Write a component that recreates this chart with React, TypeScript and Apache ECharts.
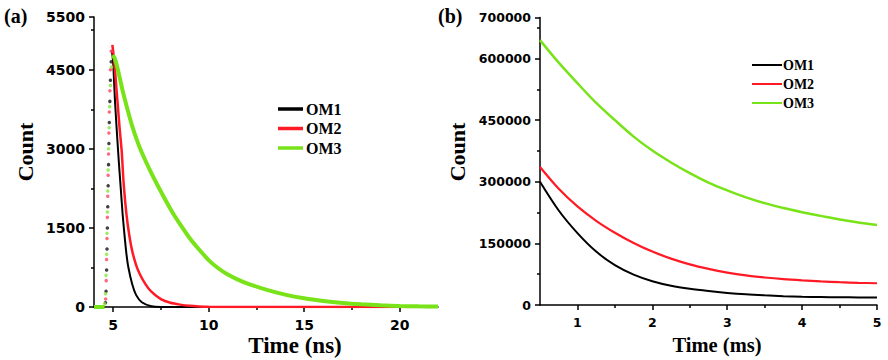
import React, { useEffect, useRef } from "react";
import * as echarts from "echarts";

// ---------- Panel (a): fluorescence decay (Time in ns) ----------
const baselineA: [number, number][] = [[4, 0], [4.55, 0]];
const om1DecayA: [number, number][] = [
  [4.93, 4870], [5.0, 4650], [5.1, 3900], [5.2, 3300], [5.3, 2750], [5.4, 2250],
  [5.5, 1750], [5.6, 1350], [5.7, 1000], [5.8, 750], [6.0, 430], [6.2, 230],
  [6.5, 90], [7.0, 15], [7.5, 0], [22, 0],
];
const om2DecayA: [number, number][] = [
  [4.96, 4970], [5.05, 4700], [5.15, 4250], [5.25, 3800], [5.35, 3350], [5.45, 2950],
  [5.55, 2350], [5.7, 1750], [5.85, 1350], [6.0, 1060], [6.2, 800], [6.4, 620],
  [6.7, 430], [7.0, 290], [7.5, 150], [8.0, 80], [8.5, 45], [9.0, 22], [9.5, 10],
  [10, 4], [11, 0], [22, 0],
];
const om3DecayA: [number, number][] = [
  [4.99, 4780], [5.1, 4700], [5.25, 4500], [5.5, 4100], [5.75, 3750], [6.0, 3430],
  [6.25, 3160], [6.5, 2930], [7.0, 2540], [7.5, 2190], [8.0, 1860], [8.5, 1570],
  [9.0, 1310], [9.5, 1090], [10.0, 890], [10.5, 735], [11.0, 615], [11.5, 525],
  [12.0, 450], [13.0, 330], [14.0, 235], [15.0, 165], [16.0, 115], [17.0, 78],
  [18.0, 52], [19.0, 33], [20.0, 20], [21.0, 12], [22.0, 8],
];
const om1RiseA: [number, number][] = [
  [4.6, 80], [4.63, 300], [4.66, 700], [4.68, 1100], [4.7, 1500], [4.72, 1900],
  [4.74, 2300], [4.76, 2700], [4.78, 3100], [4.8, 3500], [4.83, 3900], [4.86, 4300], [4.9, 4650],
];
const om2RiseA: [number, number][] = [
  [4.61, 150], [4.64, 500], [4.66, 900], [4.68, 1300], [4.7, 1700], [4.72, 2100],
  [4.74, 2500], [4.76, 2900], [4.78, 3300], [4.8, 3700], [4.83, 4100], [4.86, 4500], [4.9, 4850],
];
const om3RiseA: [number, number][] = [
  [4.56, 60], [4.6, 250], [4.63, 600], [4.66, 1000], [4.68, 1400], [4.7, 1800],
  [4.72, 2200], [4.74, 2600], [4.76, 3000], [4.79, 3400], [4.82, 3800], [4.86, 4200], [4.92, 4550],
];
const xLabelsA = [5, 10, 15, 20];
const xMinorA = [7.5, 12.5, 17.5];
const yLabelsA = [0, 1500, 3000, 4500, 5500];
const yMinorA = [750, 2250, 3750, 5250];

// ---------- Panel (b): phosphorescence decay (Time in ms) ----------
const timeB = [0.5, 0.75, 1, 1.25, 1.5, 1.75, 2, 2.25, 2.5, 2.75, 3, 3.25, 3.5, 3.75, 4, 4.25, 4.5, 4.75, 5];
const om1B = [300000, 230000, 175000, 130000, 97000, 74000, 58000, 47000, 39500, 34000, 29500, 26000, 23500, 21500, 20000, 19300, 18800, 18400, 18000];
const om2B = [336000, 283000, 240000, 205000, 176000, 151000, 130000, 113000, 99000, 88000, 79000, 72000, 67000, 63000, 60000, 57500, 55500, 54000, 53000];
const om3B = [645000, 590000, 540000, 492000, 450000, 410000, 376000, 347000, 321000, 298000, 279000, 262000, 248000, 236000, 226000, 217000, 208000, 201000, 195000];
const xLabelsB = [1, 2, 3, 4, 5];
const xMinorB = [1.5, 2.5, 3.5, 4.5];
const yLabelsB = [0, 150000, 300000, 450000, 600000, 700000];
const yMinorB = [75000, 225000, 375000, 525000, 675000];

const names = ["OM1", "OM2", "OM3"];
const colors = ["#000000", "#ff1a25", "#79e31a"];
const dotColors = ["#111111", "#ff4560", "#86e83a"];

const SERIF = "Liberation Serif";
const SANS = "DejaVu Sans";

function withGap(base: [number, number][], decay: [number, number][]) {
  return [...base, [base[base.length - 1][0] + 0.01, "-"], ...decay];
}

function majorAxis(grid: number, min: number, max: number, labels: number[], fs: number, margin: number) {
  return {
    type: "value",
    gridIndex: grid,
    min,
    max,
    axisLine: { show: true, onZero: false, lineStyle: { color: "#000", width: 1.5 } },
    axisTick: { show: true, customValues: labels, length: 5, lineStyle: { color: "#000", width: 1.5 } },
    axisLabel: {
      customValues: labels,
      formatter: (v: number) => String(v),
      fontFamily: SANS,
      fontWeight: "bold",
      fontSize: fs,
      color: "#000",
      margin,
    },
    splitLine: { show: false },
  };
}

function minorAxis(grid: number, min: number, max: number, ticks: number[], position: string) {
  return {
    type: "value",
    gridIndex: grid,
    position,
    min,
    max,
    axisLine: { show: false },
    axisTick: { show: true, customValues: ticks, length: 3, lineStyle: { color: "#000", width: 1.5 } },
    axisLabel: { show: false },
    splitLine: { show: false },
  };
}

export default function App() {
  const ref = useRef<HTMLDivElement>(null);

  useEffect(() => {
    if (!ref.current) return;
    const chart = echarts.init(ref.current, null, { renderer: "svg" });

    const decaysA = [om1DecayA, om2DecayA, om3DecayA];
    const risesA = [om1RiseA, om2RiseA, om3RiseA];
    const widthsA = [2, 2.5, 4];
    const seriesB = [om1B, om2B, om3B];
    const widthsB = [2, 2.2, 2.5];

    const series: any[] = [];
    names.forEach((n, i) => {
      series.push({
        name: n,
        type: "line",
        xAxisIndex: 0,
        yAxisIndex: 0,
        data: withGap(baselineA, decaysA[i]),
        showSymbol: false,
        smooth: 0.25,
        connectNulls: false,
        lineStyle: { color: colors[i], width: widthsA[i] },
        z: 2 + i,
      });
      series.push({
        name: n + " rise",
        type: "scatter",
        xAxisIndex: 0,
        yAxisIndex: 0,
        data: risesA[i],
        symbol: "circle",
        symbolSize: 3.5,
        itemStyle: { color: dotColors[i] },
        z: 2 + i,
      });
      series.push({
        name: n,
        type: "line",
        xAxisIndex: 2,
        yAxisIndex: 2,
        data: timeB.map((t, k) => [t, seriesB[i][k]]),
        showSymbol: false,
        smooth: 0.3,
        lineStyle: { color: colors[i], width: widthsB[i] },
        z: 2 + i,
      });
    });

    const legendA = names.flatMap((n, i) => [
      {
        type: "line",
        shape: { x1: 278, y1: 109 + i * 19.5, x2: 303, y2: 109 + i * 19.5 },
        style: { stroke: colors[i], lineWidth: 3.5 },
      },
      {
        type: "text",
        x: 306,
        y: 109 + i * 19.5,
        style: { text: n, fontFamily: SERIF, fontWeight: "bold", fontSize: 16, fill: "#000", align: "left", verticalAlign: "middle" },
      },
    ]);
    const legendB = names.flatMap((n, i) => [
      {
        type: "line",
        shape: { x1: 752, y1: 65 + i * 19, x2: 782, y2: 65 + i * 19 },
        style: { stroke: colors[i], lineWidth: 2 },
      },
      {
        type: "text",
        x: 783,
        y: 65 + i * 19,
        style: { text: n, fontFamily: SERIF, fontWeight: "bold", fontSize: 14, fill: "#000", align: "left", verticalAlign: "middle" },
      },
    ]);

    const txt = (text: string, x: number, y: number, fs: number, rot = 0, align = "center") => ({
      type: "text",
      x,
      y,
      rotation: rot,
      style: { text, fontFamily: SERIF, fontWeight: "bold", fontSize: fs, fill: "#000", align, verticalAlign: "middle" },
    });

    chart.setOption({
      animation: false,
      backgroundColor: "#ffffff",
      grid: [
        { left: 94, top: 17, width: 344, height: 290 },
        { left: 540, top: 17.5, width: 337, height: 287.5 },
      ],
      xAxis: [
        majorAxis(0, 4, 22, xLabelsA, 14, 11),
        minorAxis(0, 4, 22, xMinorA, "bottom"),
        majorAxis(1, 0.5, 5, xLabelsB, 12.5, 11),
        minorAxis(1, 0.5, 5, xMinorB, "bottom"),
      ],
      yAxis: [
        majorAxis(0, 0, 5500, yLabelsA, 14, 9),
        minorAxis(0, 0, 5500, yMinorA, "left"),
        majorAxis(1, 0, 700000, yLabelsB, 12.5, 9),
        minorAxis(1, 0, 700000, yMinorB, "left"),
      ],
      series,
      graphic: [
        txt("(a)", 4, 16, 20, 0, "left"),
        txt("(b)", 438, 16, 20, 0, "left"),
        txt("Count", 25.5, 152, 22, Math.PI / 2),
        txt("Count", 457.5, 152, 22, Math.PI / 2),
        txt("Time (ns)", 295, 345, 23),
        txt("Time (ms)", 717, 345, 20.5),
        ...legendA,
        ...legendB,
      ],
    });

    return () => chart.dispose();
  }, []);

  return (
    <div
      ref={ref}
      style={{ position: "fixed", left: 0, top: 0, width: 888, height: 360, background: "#fff" }}
    />
  );
}
